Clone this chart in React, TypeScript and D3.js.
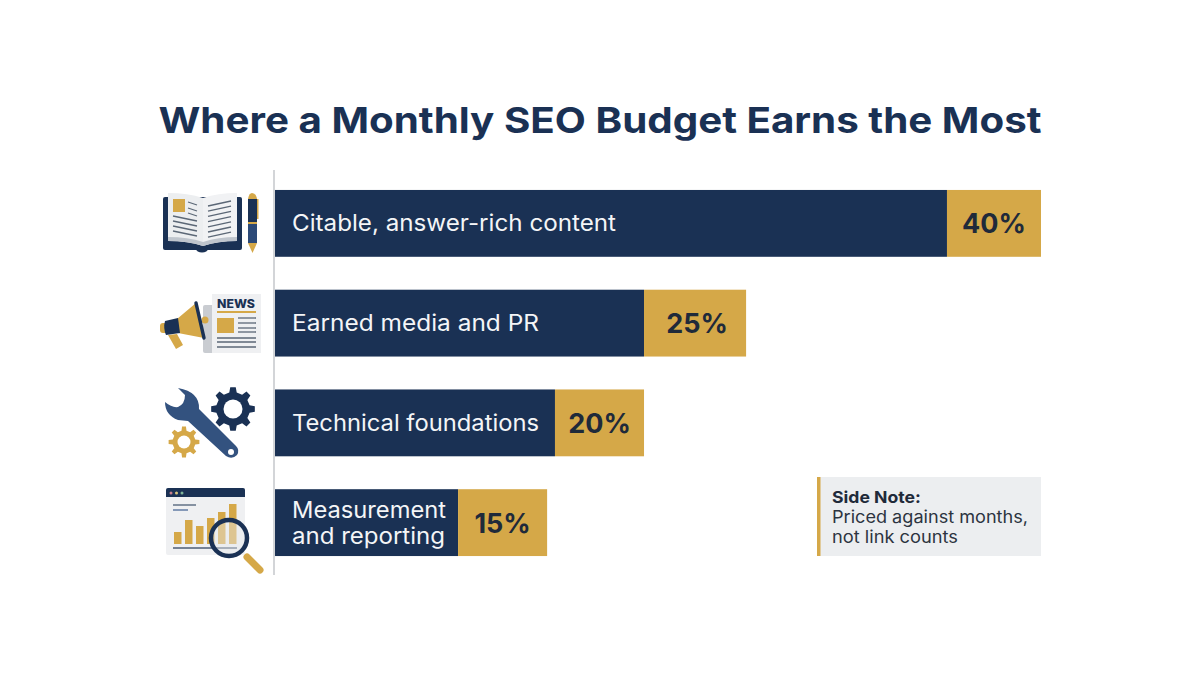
import React from 'react';
import * as d3 from 'd3';

const categories = ['Citable, answer-rich content', 'Earned media and PR', 'Technical foundations', 'Measurement and reporting'];
const labelLines = [['Citable, answer-rich content'], ['Earned media and PR'], ['Technical foundations'], ['Measurement', 'and reporting']];
const percentLabels = ['40%', '25%', '20%', '15%'];
// the segments in the picture are not strictly to scale, so these are read off it
const navyValues = [35.09, 19.27, 14.62, 9.56];
const goldValues = [4.91, 5.33, 4.65, 4.65];

const NAVY = '#1a3154';
const GOLD = '#d5a848';
const FONT = 'Inter, "Open Sans", sans-serif';

// Inter is narrower than the face in the reference, so text widths are pinned
const labelWidths: Record<string, number> = {
  'Citable, answer-rich content': 324,
  'Earned media and PR': 247,
  'Technical foundations': 247,
  'Measurement': 154,
  'and reporting': 153,
};

const x = d3.scaleLinear().domain([0, 40]).range([275, 1041]);
const y = d3.scaleBand().domain(categories).range([173, 573]).paddingInner(0.33).paddingOuter(0.17);

function gearPath(cx: number, cy: number, outer: number, inner: number, teeth: number) {
  const pts: [number, number][] = [];
  const step = (Math.PI * 2) / teeth;
  for (let i = 0; i < teeth; i++) {
    const a = i * step - Math.PI / 2;
    const w = step * 0.2;
    pts.push([a - w * 1.4, inner], [a - w * 0.8, outer], [a + w * 0.8, outer], [a + w * 1.4, inner]);
  }
  const line = d3.lineRadial().curve(d3.curveLinearClosed);
  return { d: line(pts.map(([a, r]) => [a + Math.PI / 2, r])) as string, transform: `translate(${cx},${cy})` };
}

const BookIcon = () => (
  <g>
    <rect x={163} y={197} width={79} height={53} rx={2} fill={NAVY} />
    <ellipse cx={202} cy={249} rx={6} ry={3.5} fill={NAVY} />
    <path d="M168,193 Q188,193 203,198 L203,246 Q188,241 168,241 Z" fill="#eceef0" />
    <path d="M237,193 Q218,193 203,198 L203,246 Q218,241 237,241 Z" fill="#f1f2f4" />
    <path d="M168,237 Q188,237 203,242 Q218,237 237,237 L237,241 Q218,241 203,246 Q188,241 168,241 Z" fill="#bfc5cd" />
    <rect x={173} y={199} width={12} height={13} fill={GOLD} />
    {[[188, 202, 197, 205], [188, 208, 197, 211], [188, 213, 197, 216], [173, 216, 197, 221], [173, 221, 197, 226], [173, 226, 197, 231], [173, 231, 197, 236]].map((l, i) => (
      <line key={i} x1={l[0]} y1={l[1]} x2={l[2]} y2={l[3]} stroke="#5b6776" strokeWidth={1.3} />
    ))}
    {[0, 1, 2, 3, 4, 5, 6].map(i => (
      <line key={i} x1={208} y1={206 + i * 5.2} x2={231} y2={201 + i * 5.2} stroke="#5b6776" strokeWidth={1.3} />
    ))}
    <path d="M248,199 Q249,193 252,193 Q256,193 257,199 Z" fill={GOLD} />
    <rect x={248} y={199} width={9} height={44} fill={NAVY} />
    <rect x={248} y={224} width={9} height={19} fill="#2c4a78" />
    <rect x={248} y={222} width={9} height={2} fill={GOLD} />
    <path d="M248,243 L257,243 L252.5,253 Z" fill={GOLD} />
    <rect x={257} y={199} width={1.5} height={20} fill={GOLD} />
  </g>
);

const NewsIcon = () => (
  <g>
    <rect x={203} y={305} width={12} height={48} rx={2} fill="#c9ccd1" />
    <rect x={212} y={294} width={49} height={59} fill="#eff0f2" />
    <text x={217} y={308} fontFamily={FONT} fontSize={11.5} fontWeight={800} fill={NAVY} textLength={38} lengthAdjust="spacingAndGlyphs">NEWS</text>
    <rect x={217} y={311} width={39} height={2} fill={GOLD} />
    <rect x={217} y={318} width={17} height={15} fill={GOLD} />
    {[318, 323, 328, 332].map(v => <line key={v} x1={238} x2={256} y1={v} y2={v} stroke="#5b6776" strokeWidth={1.3} />)}
    {[338, 342, 347].map(v => <line key={v} x1={217} x2={256} y1={v} y2={v} stroke="#5b6776" strokeWidth={1.3} />)}
    <path d="M168,335 L177,334 L183,345 L176,349 Z" fill={GOLD} />
    <circle cx={205} cy={320} r={3.5} fill={GOLD} />
    <path d="M177,319 L196,303 L204,338 L178,333 Z" fill={GOLD} />
    <rect x={160} y={323} width={8} height={10} rx={3} fill={GOLD} />
    <path d="M165,321 L178,318 L180,333 L166,335 Q163,328 165,321 Z" fill={NAVY} />
    <line x1={196} y1={303} x2={204} y2={338} stroke={NAVY} strokeWidth={3.4} strokeLinecap="round" />
  </g>
);

const ToolsIcon = () => {
  const big = gearPath(233, 409, 22, 17, 8);
  const small = gearPath(184, 442, 15.5, 11.5, 8);
  return (
    <g>
      <path d={big.d} transform={big.transform} fill={NAVY} />
      <circle cx={233} cy={409} r={9.5} fill="#fff" />
      <path d={small.d} transform={small.transform} fill={GOLD} />
      <circle cx={184} cy={442} r={6.5} fill="#fff" />
      <path
        d="M178,388 L185,395 Q185,404 178,407 Q172,408 165,402 Q165,415 178,420 L188,421 L226,456 Q232,460 237,455 Q240,450 236,446 L199,409 Q200,392 178,388 Z"
        fill="#33527f"
      />
      <circle cx={231} cy={452} r={3} fill="#fff" />
    </g>
  );
};

const ReportIcon = () => (
  <g>
    <rect x={166} y={488} width={79} height={67} rx={2} fill="#eff0f2" />
    <path d="M166,497 L166,490 Q166,488 168,488 L243,488 Q245,488 245,490 L245,497 Z" fill={NAVY} />
    <circle cx={171} cy={493} r={1.5} fill="#c77d8c" />
    <circle cx={176.5} cy={493} r={1.5} fill="#d8c37a" />
    <circle cx={182} cy={493} r={1.5} fill="#7fb59a" />
    <line x1={173} x2={196} y1={505} y2={505} stroke="#4d5d74" strokeWidth={1.3} />
    <line x1={173} x2={188} y1={510} y2={510} stroke="#4d6a98" strokeWidth={1.3} />
    {[[174, 532], [185, 520], [196, 526], [207, 518], [218, 512], [229, 504]].map(b => (
      <rect key={b[0]} x={b[0]} y={b[1]} width={7.5} height={544 - b[1]} fill={GOLD} />
    ))}
    <line x1={173} x2={237} y1={548} y2={548} stroke="#4d5d74" strokeWidth={1.5} />
    <line x1={247} y1={557} x2={260} y2={570} stroke={GOLD} strokeWidth={7} strokeLinecap="round" />
    <circle cx={229} cy={538} r={18} fill="#e6e8ea" fillOpacity={0.45} stroke={NAVY} strokeWidth={4.5} />
  </g>
);

const icons = [BookIcon, NewsIcon, ToolsIcon, ReportIcon];

export default function App() {
  return (
    <svg width={1200} height={675} style={{ position: 'absolute', left: 0, top: 0 }}>
      <rect width={1200} height={675} fill="#fff" />
      <text x={600} y={133} textAnchor="middle" fontFamily={FONT} fontSize={36} fontWeight={700} fill={NAVY} textLength={883} lengthAdjust="spacingAndGlyphs">
        Where a Monthly SEO Budget Earns the Most
      </text>

      {icons.map((Icon, i) => <Icon key={i} />)}
      <line x1={274} x2={274} y1={170} y2={575} stroke="#c4c7cb" strokeWidth={1.5} />

      {categories.map((c, i) => {
        const top = y(c) as number;
        const h = y.bandwidth();
        const navyEnd = x(navyValues[i]);
        const goldEnd = x(navyValues[i] + goldValues[i]);
        const lines = labelLines[i];
        return (
          <g key={c}>
            <rect x={x(0)} y={top} width={navyEnd - x(0)} height={h} fill={NAVY} />
            <rect x={navyEnd} y={top} width={goldEnd - navyEnd} height={h} fill={GOLD} />
            {lines.map((t, j) => (
              <text key={t} x={292} y={top + h / 2 + 8 + (j - (lines.length - 1) / 2) * 26} fontFamily={FONT} fontSize={22.5} fill="#f4f5f7" textLength={labelWidths[t]} lengthAdjust="spacingAndGlyphs">{t}</text>
            ))}
            <text x={(navyEnd + goldEnd) / 2 + (i === 1 ? 2 : 0)} y={top + h / 2 + 10} textAnchor="middle" fontFamily={FONT} fontSize={27} fontWeight={700} fill="#1f2a3a">{percentLabels[i]}</text>
          </g>
        );
      })}

      <rect x={817} y={477} width={224} height={79} fill="#eceef0" />
      <rect x={817} y={477} width={3.5} height={79} fill={GOLD} />
      <text x={832} y={503} fontFamily={FONT} fontSize={16.5} fontWeight={700} fill="#1f2a3a" textLength={89} lengthAdjust="spacingAndGlyphs">Side Note:</text>
      <text x={832} y={523} fontFamily={FONT} fontSize={17} fill="#2c3440" textLength={196} lengthAdjust="spacingAndGlyphs">Priced against months,</text>
      <text x={832} y={543} fontFamily={FONT} fontSize={17} fill="#2c3440" textLength={126} lengthAdjust="spacingAndGlyphs">not link counts</text>
    </svg>
  );
}
